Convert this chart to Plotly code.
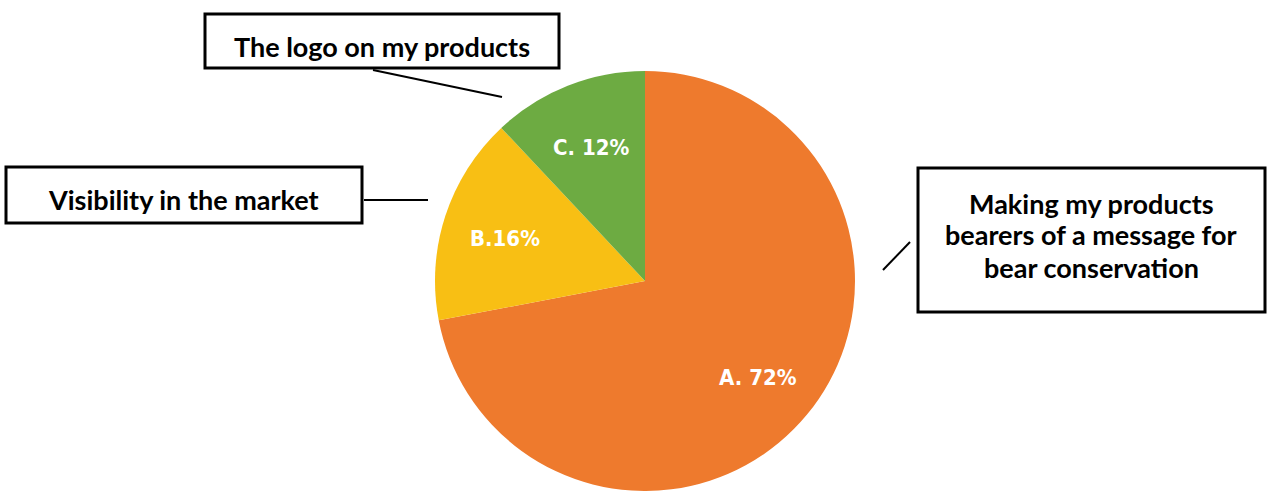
import math
import plotly.graph_objects as go

# Survey answers: share of respondents per option
letters = ["A", "B", "C"]
shares = [72, 16, 12]
label_seps = [". ", ".", ". "]
answers = [
    "Making my products<br>bearers of a message for<br>bear conservation",
    "Visibility in the market",
    "The logo on my products",
]
slice_colors = ["#EE7A2D", "#F8BF14", "#6DAB42"]

W, H = 1269, 491
CX, CY, R = 645, 281, 210  # pie centre / radius in pixels


def px(x):
    return x / W


def py(y):
    return 1 - y / H


fig = go.Figure(
    go.Pie(
        labels=letters,
        values=shares,
        sort=False,
        direction="clockwise",
        rotation=0,
        marker=dict(colors=slice_colors, line=dict(width=0)),
        textinfo="none",
        hoverinfo="label+percent",
        showlegend=False,
        domain=dict(x=[px(CX - R), px(CX + R)], y=[0, py(CY - R)]),
    )
)

annotations = []

# Slice labels placed along each slice's mid-angle
total = sum(shares)
start = 0.0
for letter, sep, v in zip(letters, label_seps, shares):
    mid = (start + v / 2) / total * 2 * math.pi
    start += v
    lx = CX + 0.7 * R * math.sin(mid)
    ly = CY - 0.7 * R * math.cos(mid)
    annotations.append(
        dict(
            x=px(lx), y=py(ly + 3), xref="paper", yref="paper",
            text=f"{letter}{sep}{v}%", showarrow=False,
            font=dict(family="DejaVu Sans Condensed, Liberation Sans Narrow, sans-serif",
                      size=22, color="white", weight="bold"),
            xanchor="center", yanchor="middle",
        )
    )

# Callout boxes: (left, top, right, bottom), text centre x, first line centre y, leader line
callouts = [
    dict(box=(918, 168, 1265, 312), tx=1091, ty=203, text=answers[0],
         line=(910, 242, 883, 270)),
    dict(box=(6, 167, 362, 223), tx=184, ty=199, text=answers[1],
         line=(364, 200, 428, 200)),
    dict(box=(205, 14, 559, 68), tx=382, ty=46, text=answers[2],
         line=(373, 70, 502, 97)),
]
LINE_STEP = 32

shapes = []
for c in callouts:
    x0, y0, x1, y1 = c["box"]
    shapes.append(dict(type="rect", xref="paper", yref="paper",
                       x0=px(x0), y0=py(y0), x1=px(x1), y1=py(y1),
                       line=dict(color="black", width=3), fillcolor="white"))
    lx0, ly0, lx1, ly1 = c["line"]
    shapes.append(dict(type="line", xref="paper", yref="paper",
                       x0=px(lx0), y0=py(ly0), x1=px(lx1), y1=py(ly1),
                       line=dict(color="black", width=2)))
    for k, row in enumerate(c["text"].split("<br>")):
        annotations.append(
            dict(x=px(c["tx"]), y=py(c["ty"] + k * LINE_STEP), xref="paper", yref="paper",
                 text=f"<b>{row}</b>", showarrow=False, align="center",
                 font=dict(family="Lato, Open Sans, sans-serif", size=27, color="black"),
                 xanchor="center", yanchor="middle")
        )

fig.update_layout(
    width=W, height=H,
    margin=dict(l=0, r=0, t=0, b=0),
    paper_bgcolor="white", plot_bgcolor="white",
    shapes=shapes, annotations=annotations,
)

fig.write_html("out.html")
